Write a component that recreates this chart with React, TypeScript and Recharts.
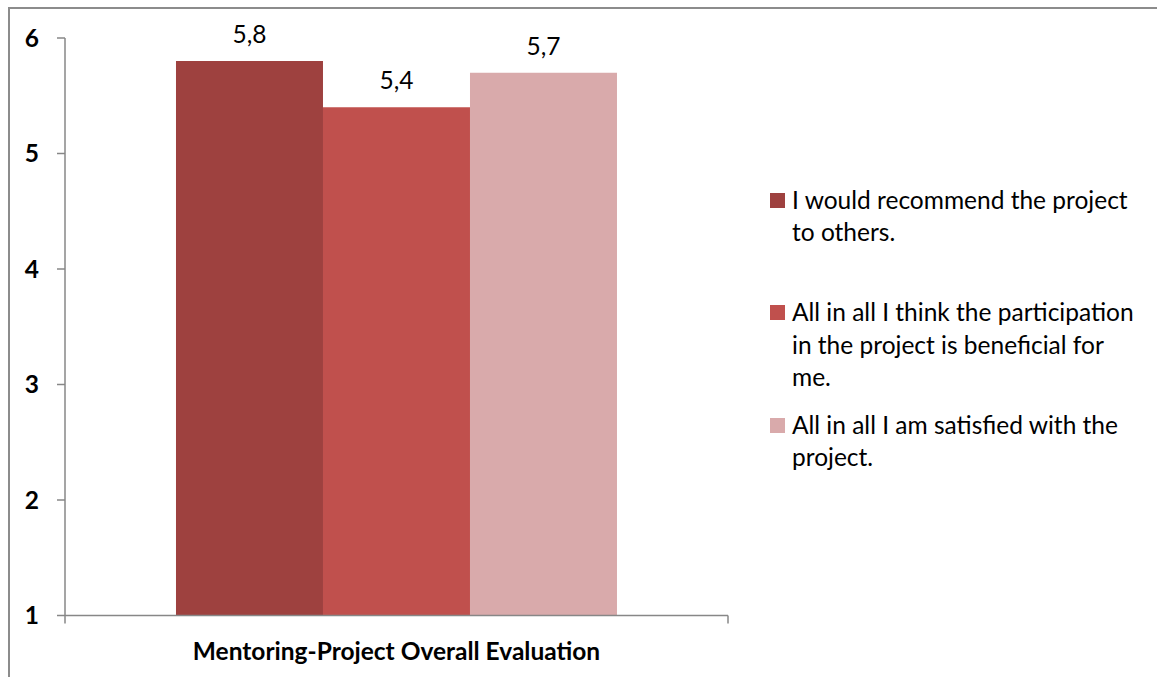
import React from 'react';
import { BarChart, Bar, XAxis, YAxis, Legend, LabelList } from 'recharts';

if (typeof document !== 'undefined') {
  document.body.style.margin = '0';
  document.body.style.overflow = 'hidden';
}

const categories = ['Mentoring-Project Overall Evaluation'];
const seriesKeys = ['s0', 's1', 's2'];
const seriesNames = [
  'I would recommend the project to others.',
  'All in all I think the participation in the project is beneficial for me.',
  'All in all I am satisfied with the project.',
];
const recommendValues = [5.8];
const beneficialValues = [5.4];
const satisfiedValues = [5.7];
const yTicks = [1, 2, 3, 4, 5, 6];
const legendLines = [
  ['I would recommend the project', 'to others.'],
  ['All in all I think the participation', 'in the project is beneficial for', 'me.'],
  ['All in all I am satisfied with the', 'project.'],
];
const colors = ['#9E413F', '#C0504D', '#D9AAAB'];

const data = categories.map((c, i) => ({
  name: c,
  s0: recommendValues[i],
  s1: beneficialValues[i],
  s2: satisfiedValues[i],
}));

const FONT = 'Lato, "Open Sans", sans-serif';
const FS = 24.5;
const AXIS = '#878787';

const fmt = (v: any) => String(v).replace('.', ',');

const LegendContent = (props: any) => {
  const payload = [...(props.payload || [])]
    .filter((p: any) => seriesKeys.includes(p.dataKey))
    .sort((a: any, b: any) => seriesKeys.indexOf(a.dataKey) - seriesKeys.indexOf(b.dataKey));
  return (
    <div style={{ fontFamily: FONT, fontSize: FS, color: '#000' }}>
      {payload.map((p: any) => {
        const i = seriesKeys.indexOf(p.dataKey);
        return (
          <div key={p.dataKey} style={{ position: 'relative', height: 112.5 }}>
            <div
              style={{
                position: 'absolute',
                left: 0,
                top: 8.75,
                width: 15,
                height: 15,
                background: colors[i],
              }}
            />
            <div style={{ position: 'absolute', left: 22, top: 0, lineHeight: '32.5px', whiteSpace: 'nowrap' }}>
              {legendLines[i].map((l, j) => (
                <div key={j}>{l}</div>
              ))}
            </div>
          </div>
        );
      })}
    </div>
  );
};

const CategoryTick = (props: any) => {
  const { x, y, payload, width, visibleTicksCount } = props;
  const half =
    payload && typeof payload.offset === 'number' && payload.offset > 0
      ? payload.offset
      : (Number(width) || 0) / (visibleTicksCount || 1) / 2;
  return (
    <g>
      <line x1={x - half} y1={y} x2={x - half} y2={y + 8} stroke={AXIS} strokeWidth={1.5} />
      <line x1={x + half} y1={y} x2={x + half} y2={y + 8} stroke={AXIS} strokeWidth={1.5} />
      <text
        x={x}
        y={y + 27}
        dy="0.71em"
        textAnchor="middle"
        fill="#000"
        fontSize={FS}
        fontWeight={700}
        fontFamily={FONT}
      >
        {payload.value}
      </text>
    </g>
  );
};

export default function App() {
  return (
    <div style={{ position: 'relative', width: 1157, height: 677, background: '#fff' }}>
      <BarChart
        width={1157}
        height={677}
        data={data}
        margin={{ top: 38, right: 429, bottom: 6.5, left: 0 }}
        barCategoryGap="16.74%"
        barGap={0}
      >
        <XAxis
          dataKey="name"
          height={55}
          tickLine={false}
          tickSize={0}
          tickMargin={0}
          axisLine={{ stroke: AXIS, strokeWidth: 1.5 }}
          tick={<CategoryTick />}
        />
        <YAxis
          width={65}
          domain={[1, 6]}
          ticks={yTicks}
          interval={0}
          tickSize={8}
          tickMargin={18}
          axisLine={{ stroke: AXIS, strokeWidth: 1.5 }}
          tickLine={{ stroke: AXIS, strokeWidth: 1.5 }}
          tick={{ fill: '#000', fontSize: FS, fontWeight: 700, fontFamily: FONT }}
        />
        <Legend
          layout="vertical"
          align="center"
          verticalAlign="middle"
          wrapperStyle={{ left: 770, top: 183.75, width: 387 }}
          content={<LegendContent />}
        />
        {seriesKeys.map((k, i) => (
          <Bar key={k} dataKey={k} name={seriesNames[i]} fill={colors[i]} isAnimationActive={false}>
            <LabelList
              dataKey={k}
              position="top"
              offset={18}
              formatter={fmt}
              style={{ fill: '#000', fontSize: FS, fontFamily: FONT }}
            />
          </Bar>
        ))}
      </BarChart>
      <div
        style={{
          position: 'absolute',
          left: 8,
          top: 7,
          width: 1149,
          height: 670,
          borderLeft: '2px solid #8C8C8C',
          borderTop: '2px solid #8C8C8C',
          boxSizing: 'border-box',
          pointerEvents: 'none',
        }}
      />
    </div>
  );
}
